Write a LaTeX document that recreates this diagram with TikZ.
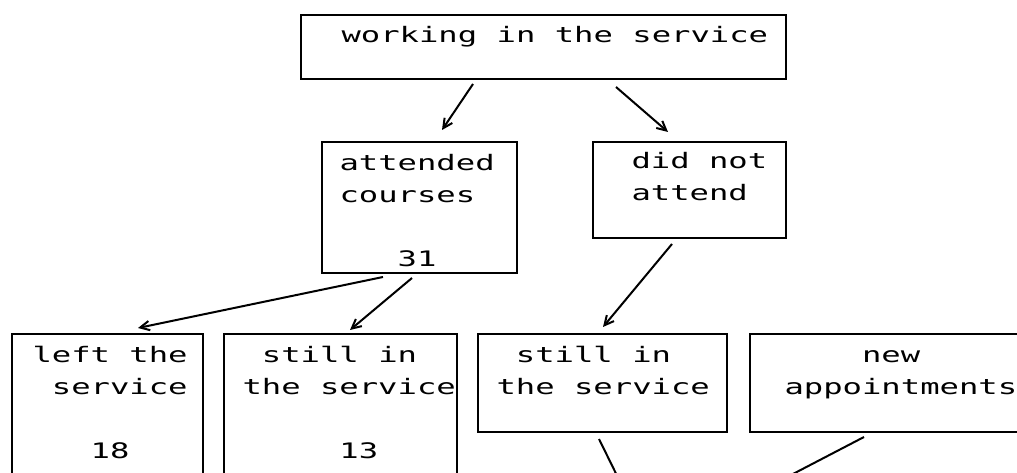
\documentclass[tikz,border=0pt]{standalone}
\usepackage{fontspec}
\usetikzlibrary{arrows.meta,calc}
\newfontfamily\dotfont[FakeStretch=1.51]{DejaVu Sans Mono}
\tikzset{every picture/.style={line width=0.75pt}}
\tikzset{
  box/.style={draw, line width=1.5pt, inner sep=0pt},
  txt/.style={anchor=base west, align=left, inner sep=0pt, font=\dotfont\fontsize{16}{24}\selectfont},
  arr/.style={line width=1.5pt, -{Straight Barb[length=7pt,width=7pt,line width=1.5pt]}},
  tail/.style={line width=1.5pt}
}
\begin{document}
\begin{tikzpicture}[x=0.75pt,y=0.75pt,yscale=-1,xscale=1]
\useasboundingbox (0,0) rectangle (1017,473);
\clip (0,0) rectangle (1017,473);

% Boxes
\node [box, minimum width=363.75pt, minimum height=48pt] (top) at (543.5,47) {};
\node [box, minimum width=146.25pt, minimum height=98.25pt] (att) at (419.5,207.5) {};
\node [box, minimum width=144.75pt, minimum height=72pt] (dna) at (689.5,190) {};
\node [box, minimum width=143.25pt, minimum height=154.5pt] (left) at (107.5,437) {};
\node [box, minimum width=174.75pt, minimum height=154.5pt] (still1) at (340.5,437) {};
\node [box, minimum width=186.75pt, minimum height=73.5pt] (still2) at (602.5,383) {};
\node [box, minimum width=262.5pt, minimum height=73.5pt] (newapp) at (925,383) {};

% Text Node (anchored on the baseline of the last line)
\node [txt] (ttop) at (341,43) {working in the service};
% Text Node
\node [txt] (tatt) at (339,267) {attended\\courses\\[24pt]\phantom{xxx}31};
% Text Node
\node [txt] (tdna) at (631,201) {did not\\attend};
% Text Node
\node [txt] (tleft) at (32,459) {left the\\\phantom{x}service\\[24pt]\phantom{xxx}18};
% Text Node
\node [txt] (tstill1) at (242,459) {\phantom{x}still in\\the service\\[24pt]\phantom{xxxxx}13};
% Text Node
\node [txt] (tstill2) at (496,395) {\phantom{x}still in\\the service};
% Text Node
\node [txt] (tnew) at (784,395) {\phantom{xxxx}new\\appointments};

% Arrows
\draw [arr] ($(top.south)+(-70.5,4)$) -- ($(att.north)+(22.5,-11)$);
\draw [arr] ($(top.south)+(72.5,7)$) -- ($(dna.north)+(-21.5,-9)$);
\draw [arr] ($(att.south)+(-36.5,3)$) -- ($(left.north)+(30.5,-5)$);
\draw [arr] ($(att.south)+(-7.5,4)$) -- ($(still1.north)+(9.5,-3)$);
\draw [arr] ($(dna.south)+(-17.5,5)$) -- ($(still2.north)+(0.5,-6)$);

% Lines leaving the picture
\coordinate (end1) at (629,500);
\coordinate (end2) at (743,500);
\draw [tail] ($(still2.south)+(-3.5,6)$) -- (end1);
\draw [tail] ($(newapp.south)+(-61,4)$) -- (end2);

\end{tikzpicture}
\end{document}
